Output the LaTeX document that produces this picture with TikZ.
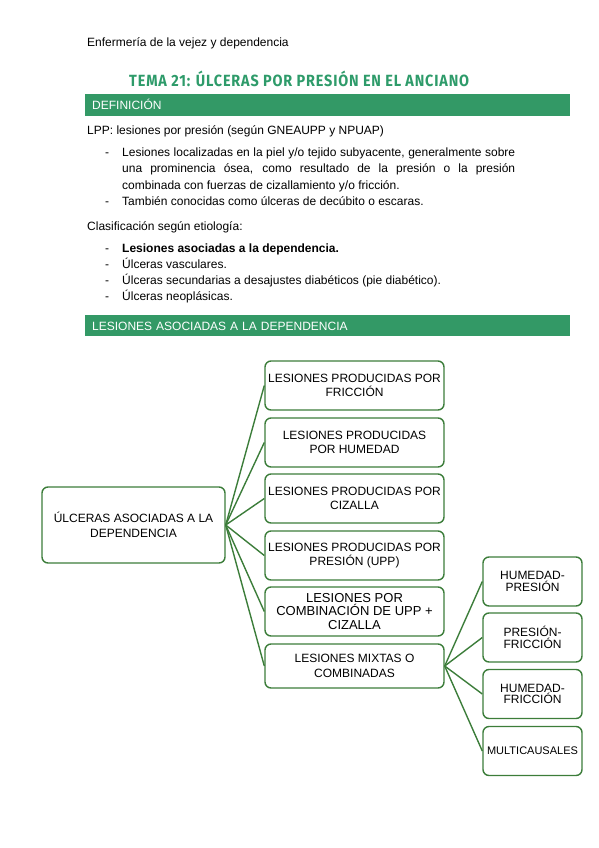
\documentclass[tikz,border=0pt]{standalone}
\usepackage{fontspec}
\setmainfont{Liberation Sans}
\newfontfamily\titlefont[LetterSpace=6]{Fira Sans}
\usepackage{graphicx}
\usepackage{xcolor}
\usetikzlibrary{positioning}
\definecolor{bargreen}{RGB}{51,153,102}
\definecolor{titlegreen}{RGB}{46,155,106}
\definecolor{linegreen}{RGB}{60,125,58}
\tikzset{
  txt/.style={anchor=base west,inner sep=0pt,font=\fontsize{12}{14}\selectfont},
  bar/.style={anchor=north west,fill=bargreen,text=white,inner sep=0pt,
    inner xsep=7pt,minimum width=485pt,align=left,text width=471pt,
    text height=8.6pt,text depth=0pt,font=\fontsize{12}{14}\selectfont},
  box/.style={draw=linegreen,line width=1.4pt,rounded corners=6pt,
    inner sep=0pt,align=center,font=\fontsize{12}{14.5}\selectfont},
  leaf/.style={box,minimum width=179pt,minimum height=49pt},
  subleaf/.style={box,minimum width=99pt,minimum height=49pt,
    font=\fontsize{12}{11.5}\selectfont},
  link/.style={linegreen,line width=1.4pt}
}
\begin{document}
\begin{tikzpicture}[x=1pt,y=-1pt]
  \useasboundingbox (0,0) rectangle (599,848);

  % header and title
  \node[txt] (hdr) at (87,47) {Enfermería de la vejez y dependencia};
  \node[anchor=base west,inner sep=0pt,text=titlegreen] (title) at (129,86.5)
    {\resizebox{340pt}{15.5pt}{\titlefont\bfseries TEMA 21: ÚLCERAS POR PRESIÓN EN EL ANCIANO}};

  % definition
  \node[bar,minimum height=22pt] (defbar) at (85,94) {DEFINICIÓN};
  \node[txt] (lpp) at (87,135) {LPP: lesiones por presión (según GNEAUPP y NPUAP)};
  \node[txt] (d1) at (105,156) {-};
  \node[txt] (l1) at (122,156) {\hbox to 393pt{Lesiones localizadas en la piel y/o tejido subyacente, generalmente sobre}};
  \node[txt] (l2) at (122,172.5) {\hbox to 393pt{una prominencia ósea, como resultado de la presión o la presión}};
  \node[txt] (l3) at (122,189) {combinada con fuerzas de cizallamiento y/o fricción.};
  \node[txt] (d2) at (105,205) {-};
  \node[txt] (l4) at (122,205) {También conocidas como úlceras de decúbito o escaras.};

  % classification
  \node[txt] (clas) at (87,230) {Clasificación según etiología:};
  \foreach \y/\t [count=\i] in {252/\textbf{Lesiones asociadas a la dependencia.},
      268/Úlceras vasculares.,
      284/Úlceras secundarias a desajustes diabéticos (pie diabético).,
      300/Úlceras neoplásicas.} {
    \node[txt] (cd\i) at (105,\y) {-};
    \node[txt] (ct\i) at (122,\y) {\t};
  }

  \node[bar,minimum height=21pt] (depbar) at (85,315) {LESIONES ASOCIADAS A LA DEPENDENCIA};

  % diagram
  \node[box,minimum width=183pt,minimum height=76pt] (root) at (133.5,525)
    {ÚLCERAS ASOCIADAS A LA\\DEPENDENCIA};
  \node[leaf] (fric) at (354.5,385.5) {LESIONES PRODUCIDAS POR\\FRICCIÓN};
  \node[leaf] (hum)  at (354.5,442.5) {LESIONES PRODUCIDAS\\POR HUMEDAD};
  \node[leaf] (ciz)  at (354.5,498.5) {LESIONES PRODUCIDAS POR\\CIZALLA};
  \node[leaf] (upp)  at (354.5,555.5) {LESIONES PRODUCIDAS POR\\PRESIÓN (UPP)};
  \node[leaf,font=\fontsize{13}{13.7}\selectfont] (comb) at (354.5,611.5)
    {LESIONES POR\\COMBINACIÓN DE UPP +\\CIZALLA};
  \node[leaf,minimum height=44pt] (mix) at (354.5,666) {LESIONES MIXTAS O\\COMBINADAS};

  \node[subleaf] (hp) at (532.5,581.5) {HUMEDAD-\\PRESIÓN};
  \node[subleaf] (pf) at (532.5,637.5) {PRESIÓN-\\FRICCIÓN};
  \node[subleaf] (hf) at (532.5,694) {HUMEDAD-\\FRICCIÓN};
  \node[subleaf,font=\fontsize{11}{12}\selectfont] (multi) at (532.5,751) {MULTICAUSALES};

  \foreach \n in {fric,hum,ciz,upp,comb,mix}
    \draw[link] (root.east) -- (\n.west);
  \foreach \n in {hp,pf,hf,multi}
    \draw[link] (mix.east) -- (\n.west);
\end{tikzpicture}
\end{document}
